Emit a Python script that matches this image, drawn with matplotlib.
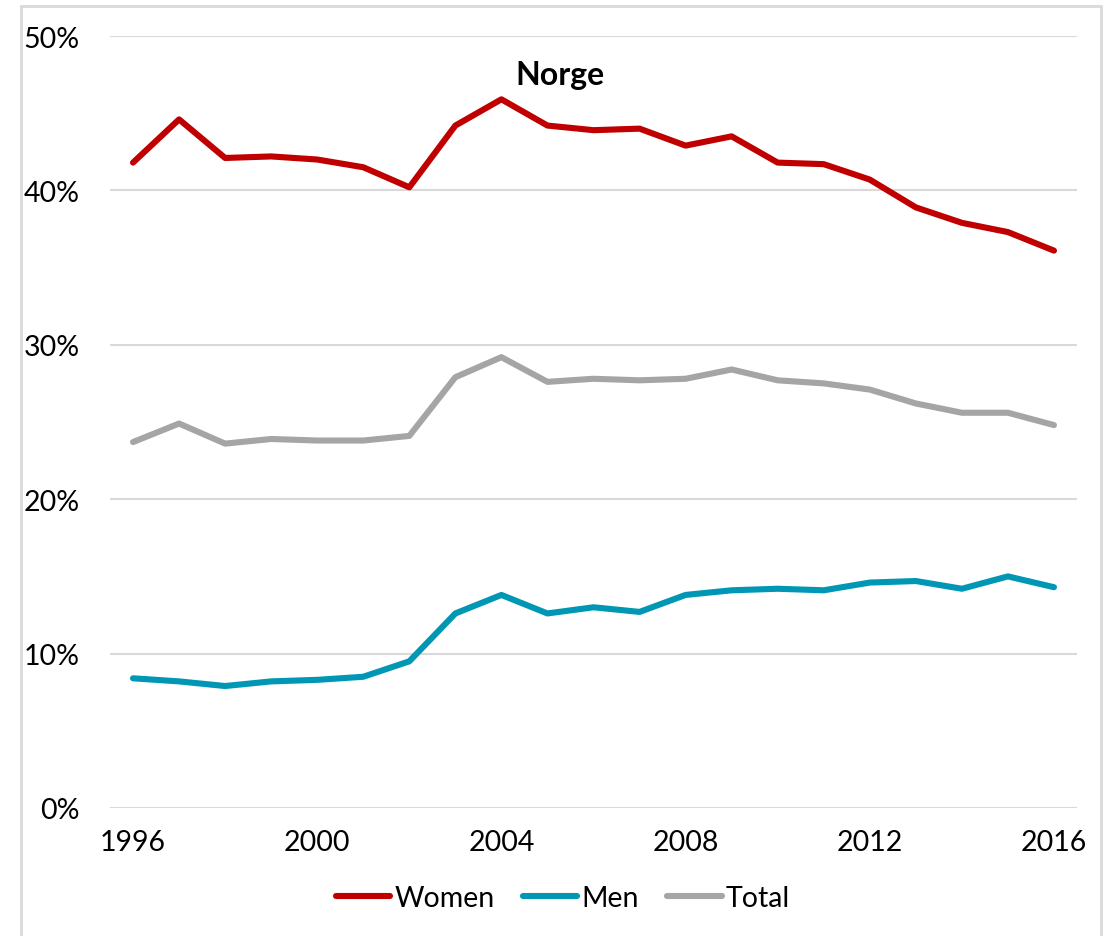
import matplotlib
matplotlib.use("Agg")
import matplotlib.pyplot as plt
from matplotlib.patches import Rectangle
from matplotlib.ticker import FuncFormatter

# data (share, %)
years = list(range(1996, 2017))
women = [41.8, 44.6, 42.1, 42.2, 42.0, 41.5, 40.2, 44.2, 45.9, 44.2, 43.9,
         44.0, 42.9, 43.5, 41.8, 41.7, 40.7, 38.9, 37.9, 37.3, 36.1]
men = [8.4, 8.2, 7.9, 8.2, 8.3, 8.5, 9.5, 12.6, 13.8, 12.6, 13.0,
       12.7, 13.8, 14.1, 14.2, 14.1, 14.6, 14.7, 14.2, 15.0, 14.3]
total = [23.7, 24.9, 23.6, 23.9, 23.8, 23.8, 24.1, 27.9, 29.2, 27.6, 27.8,
         27.7, 27.8, 28.4, 27.7, 27.5, 27.1, 26.2, 25.6, 25.6, 24.8]
series_names = ['Women', 'Men', 'Total']
series_colors = ['#C00000', '#0097B5', '#A5A5A5']
xticks = [1996, 2000, 2004, 2008, 2012, 2016]
yticks = [0, 10, 20, 30, 40, 50]

plt.rcParams['font.family'] = ['Lato', 'DejaVu Sans']

fig = plt.figure(figsize=(11.09, 9.37), dpi=100)
ax = fig.add_axes([110/1109, 1-809/937, (1077-110)/1109, (809-37)/937])

# outer border like the excel chart area
fig.patches.append(Rectangle((21/1109, -0.05), (1101-21)/1109, 1.05-7/937,
                             transform=fig.transFigure, fill=False,
                             edgecolor='#D9D9D9', linewidth=2))

for vals, name, col in zip([women, men, total], series_names, series_colors):
    ax.plot(years, vals, color=col, lw=4.4, label=name,
            solid_capstyle='round', solid_joinstyle='round')

ax.set_xlim(1995.5, 2016.5)
ax.set_ylim(0, 50)
ax.set_xticks(xticks)
ax.set_yticks(yticks)
ax.yaxis.set_major_formatter(FuncFormatter(lambda v, p: '%d%%' % v))
ax.tick_params(length=0, labelsize=20.5, colors='black')
ax.tick_params(axis='y', pad=22)
ax.tick_params(axis='x', pad=15)
ax.grid(axis='y', color='#D9D9D9', lw=1.5)
ax.set_axisbelow(True)
for s in ax.spines.values():
    s.set_visible(False)

fig.text(560/1109, 1-75/937, 'Norge', ha='center', va='center',
         fontsize=23, fontweight='bold')

fig.legend(loc='center', bbox_to_anchor=(563/1109, 1-899/937), ncol=3,
           frameon=False, fontsize=20.5, handlelength=1.9, handletextpad=0.15,
           columnspacing=1.0)

fig.savefig('out.png', dpi=100, facecolor='white')
